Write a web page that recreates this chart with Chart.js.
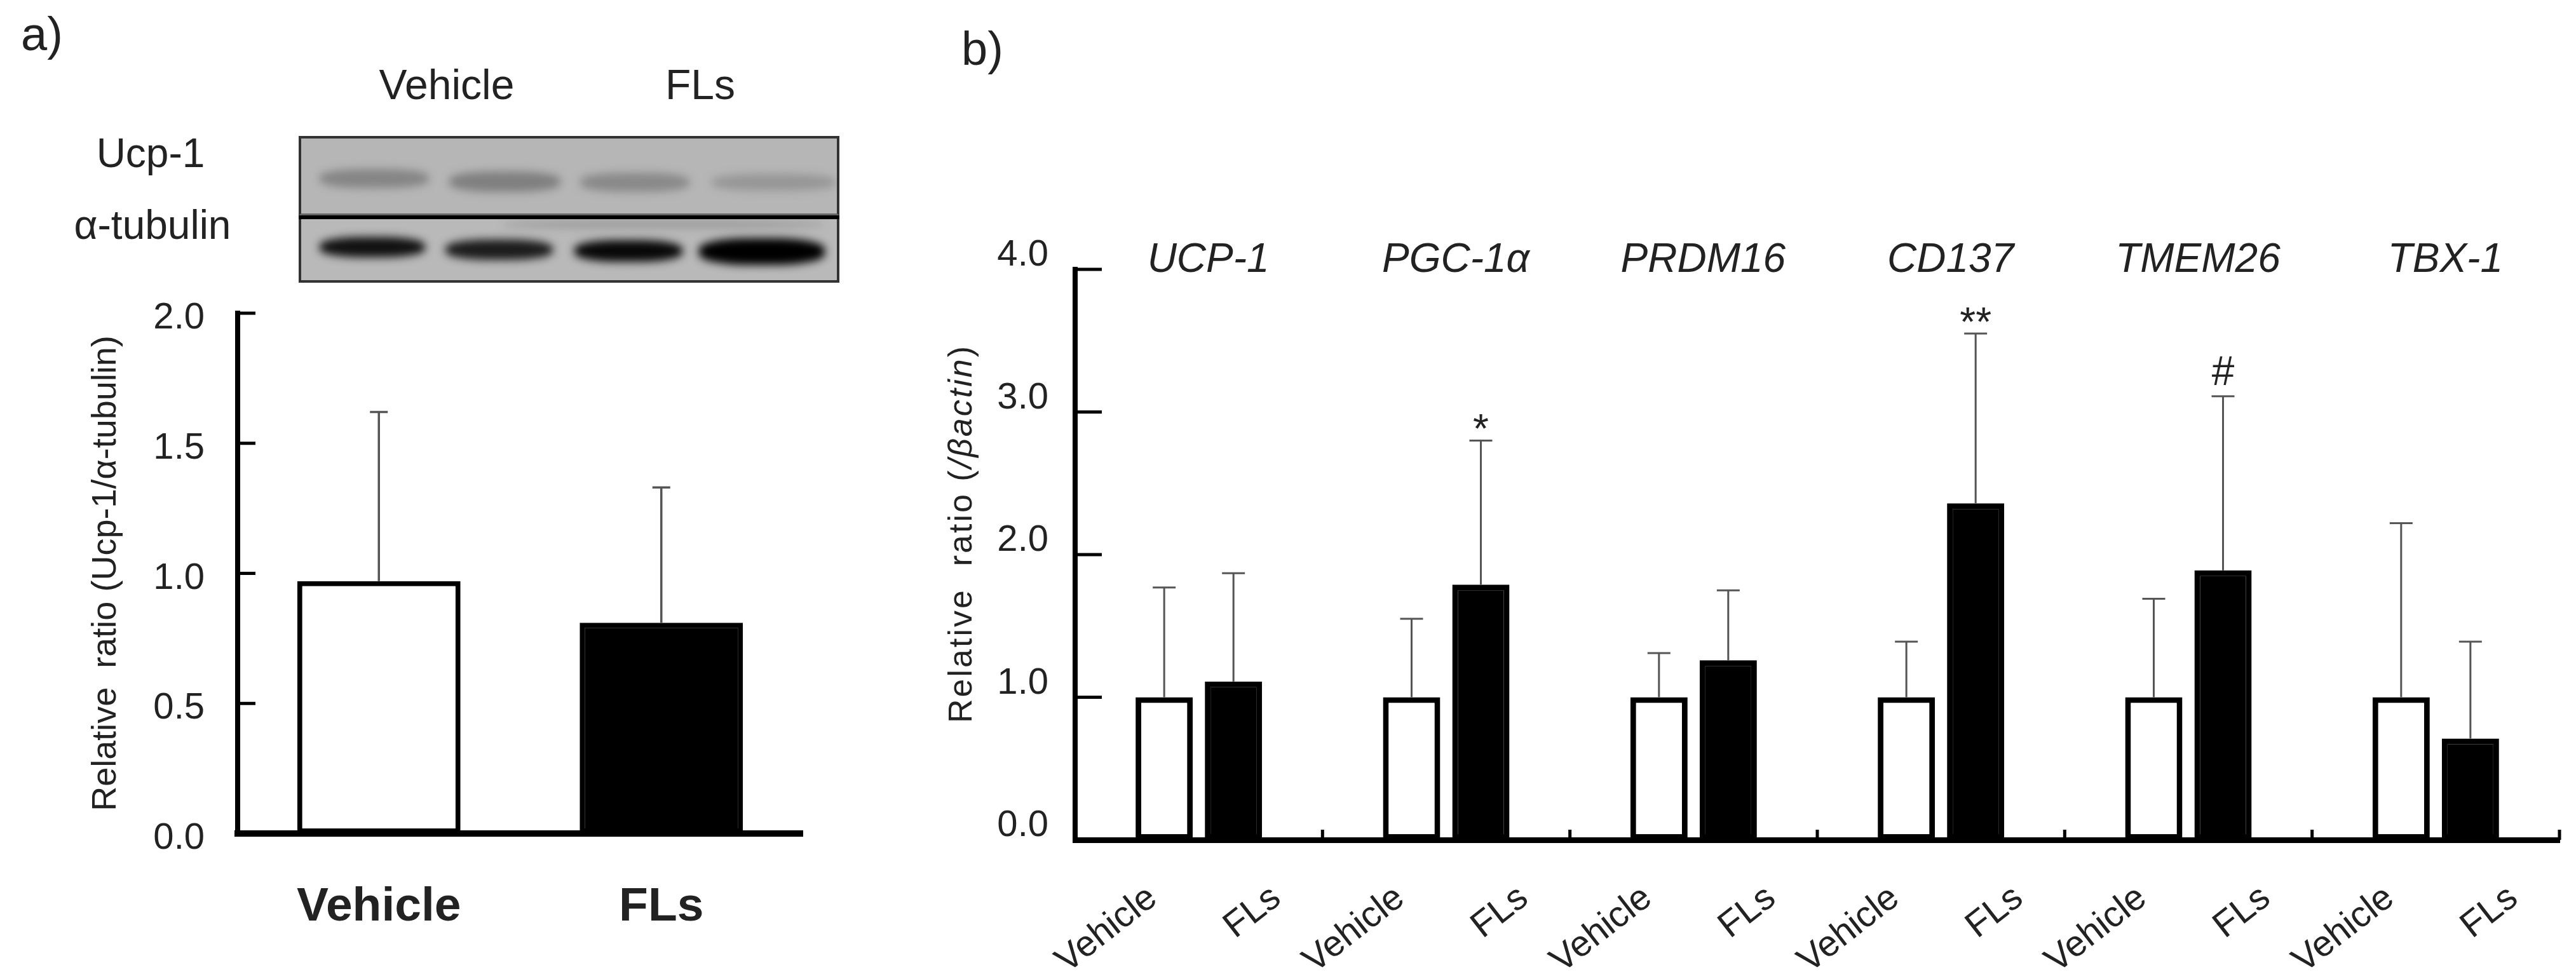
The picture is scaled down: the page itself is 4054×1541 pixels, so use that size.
<!DOCTYPE html>
<html>
<head>
<meta charset="utf-8">
<script src="https://cdn.jsdelivr.net/npm/chart.js@4.4.1/dist/chart.umd.min.js"></script>
<style>
  body { margin: 0; width: 4054px; height: 1541px; background: #fff; overflow: hidden; position: relative;
         font-family: 'Liberation Sans', Arial, sans-serif; color: #222; }
  canvas { position: absolute; top: 0; }
  .txt { position: absolute; white-space: nowrap; line-height: 1; transform: translate(-50%, -50%); }
  .blot { position: absolute; overflow: hidden; }
  .band { position: absolute; border-radius: 40%; filter: blur(7px); }
</style>
</head>
<body>

<div class="txt" style="left:66px; top:54px; font-size:74px;">a)</div>
<div class="txt" style="left:1546px; top:77px; font-size:74px;">b)</div>

<!-- западный блот над панелью a -->
<div class="txt" style="left:703px; top:133px; font-size:66px;">Vehicle</div>
<div class="txt" style="left:1102px; top:133px; font-size:66px;">FLs</div>
<div class="txt" style="left:237px; top:241px; font-size:64px;">Ucp-1</div>
<div class="txt" style="left:240px; top:354px; font-size:64px;">α-tubulin</div>

<div class="blot" style="left:470px; top:214px; width:843px; height:118px; background:#b6b6b6; border:4px solid #333; border-bottom:3px solid #666;">
  <div class="band" style="left:29px; top:48px; width:172px; height:30px; background:#858585;"></div>
  <div class="band" style="left:233px; top:52px; width:175px; height:32px; background:#7f7f7f;"></div>
  <div class="band" style="left:439px; top:54px; width:172px; height:30px; background:#898989;"></div>
  <div class="band" style="left:646px; top:56px; width:195px; height:26px; background:#969696;"></div>
</div>
<div style="position:absolute; left:470px; top:339px; width:851px; height:6px; background:#000;"></div>
<div class="blot" style="left:470px; top:345px; width:843px; height:96px; background:#b9b9b9; border:4px solid #333; border-top:none;">
  <div class="band" style="left:29px; top:28px; width:166px; height:32px; background:#111;"></div>
  <div class="band" style="left:227px; top:32px; width:169px; height:32px; background:#1c1c1c;"></div>
  <div class="band" style="left:430px; top:33px; width:170px; height:34px; background:#080808;"></div>
  <div class="band" style="left:626px; top:30px; width:198px; height:42px; background:#000;"></div>
  <div class="band" style="left:320px; top:2px; width:500px; height:12px; background:#9a9a9a;"></div>
</div>

<canvas id="chartA" width="1300" height="1541" style="left:0; width:1300px; height:1541px;"></canvas>
<canvas id="chartB" width="2734" height="1541" style="left:1320px; width:2734px; height:1541px;"></canvas>

<script>
// данные панели a (вестерн-блот, Ucp-1/α-tubulin)
const blotGroups = ['Vehicle', 'FLs'];
const blotMean = [0.97, 0.81];
const blotSd = [0.65, 0.52];
const yTicksA = [0, 0.5, 1.0, 1.5, 2.0];

// данные панели b (экспрессия генов, /βactin)
const genes = ['UCP-1', 'PGC-1α', 'PRDM16', 'CD137', 'TMEM26', 'TBX-1'];
const seriesNames = ['Vehicle', 'FLs'];
const vehicleMean = [1.00, 1.00, 1.00, 1.00, 1.00, 1.00];
const vehicleSd = [0.77, 0.55, 0.31, 0.39, 0.69, 1.22];
const flsMean = [1.11, 1.79, 1.26, 2.36, 1.89, 0.71];
const flsSd = [0.76, 1.01, 0.49, 1.19, 1.22, 0.68];
const flsMarks = ['', '*', '', '**', '#', ''];
const yTicksB = [0, 1, 2, 3, 4];

const FONT = "'Liberation Sans', Arial, sans-serif";

// засечки внутрь графика (по оси y) и разделители групп на оси x
const inwardTicks = {
  id: 'inwardTicks',
  afterDatasetsDraw(chart, args, opts) {
    const { ctx, chartArea: ca, scales: { x, y } } = chart;
    ctx.save();
    ctx.strokeStyle = '#000';
    ctx.lineWidth = opts.width;
    ctx.beginPath();
    y.ticks.forEach((t, i) => {
      const py = y.getPixelForTick(i);
      ctx.moveTo(ca.left, py);
      ctx.lineTo(ca.left + opts.yLen, py);
    });
    if (opts.xLen) {
      for (let i = 1; i <= x.ticks.length; i++) {
        const px = x.getPixelForValue(i - 0.5);
        ctx.moveTo(px, ca.bottom);
        ctx.lineTo(px, ca.bottom - opts.xLen);
      }
    }
    ctx.stroke();
    ctx.restore();
  }
};

// планки погрешностей (только вверх) и значки значимости
const errorBars = {
  id: 'errorBars',
  afterDatasetsDraw(chart, args, opts) {
    const { ctx, scales: { y } } = chart;
    ctx.save();
    chart.data.datasets.forEach((ds, di) => {
      const meta = chart.getDatasetMeta(di);
      meta.data.forEach((bar, i) => {
        const top = y.getPixelForValue(ds.data[i] + ds.sd[i]);
        ctx.strokeStyle = opts.color;
        ctx.lineWidth = opts.width;
        ctx.beginPath();
        ctx.moveTo(bar.x, bar.y);
        ctx.lineTo(bar.x, top);
        ctx.moveTo(bar.x - opts.cap, top);
        ctx.lineTo(bar.x + opts.cap, top);
        ctx.stroke();
        const mark = ds.marks ? ds.marks[i] : '';
        if (mark) {
          ctx.font = `${opts.markSize}px ${FONT}`;
          ctx.fillStyle = '#222';
          ctx.textAlign = 'center';
          ctx.textBaseline = 'alphabetic';
          const m = ctx.measureText(mark);
          ctx.fillText(mark, bar.x, top - opts.markGap - m.actualBoundingBoxDescent);
        }
      });
    });
    ctx.restore();
  }
};

// подписи генов сверху, повернутые подписи групп и заголовок оси панели b
const panelBText = {
  id: 'panelBText',
  afterDraw(chart) {
    const { ctx, chartArea: ca, scales: { x } } = chart;
    ctx.save();
    ctx.fillStyle = '#222';
    ctx.font = `italic 64px ${FONT}`;
    ctx.textAlign = 'center';
    ctx.textBaseline = 'middle';
    genes.forEach((g, i) => ctx.fillText(g, x.getPixelForValue(i) + 15, ca.top - 14));

    ctx.font = `57px ${FONT}`;
    ctx.textAlign = 'right';
    genes.forEach((g, i) => {
      seriesNames.forEach((s, k) => {
        const px = x.getPixelForValue(i + (k === 0 ? -0.25 : 0.25)) + 25;
        ctx.save();
        ctx.translate(px, ca.bottom + 85);
        ctx.rotate(-38 * Math.PI / 180);
        ctx.fillText(s, 0, 0);
        ctx.restore();
      });
    });

    const parts = [['Relative  ratio (', 'normal'], ['/βactin', 'italic'], [')', 'normal']];
    ctx.translate(ca.left - 177, (ca.top + ca.bottom) / 2 - 33);
    ctx.rotate(-Math.PI / 2);
    ctx.textAlign = 'left';
    ctx.letterSpacing = '3px';
    let total = 0;
    parts.forEach(p => { ctx.font = `${p[1]} 52px ${FONT}`; p.w = ctx.measureText(p[0]).width; total += p.w; });
    let xx = -total / 2;
    parts.forEach(p => { ctx.font = `${p[1]} 52px ${FONT}`; ctx.fillText(p[0], xx, 0); xx += p.w; });
    ctx.restore();
  }
};

Chart.defaults.font.family = FONT;
Chart.defaults.color = '#222';

new Chart(document.getElementById('chartA'), {
  type: 'bar',
  plugins: [inwardTicks, errorBars],
  data: {
    labels: blotGroups,
    datasets: [{
      data: blotMean,
      sd: blotSd,
      backgroundColor: ['#ffffff', '#000000'],
      borderColor: '#000000',
      borderWidth: 8,
      borderSkipped: false,
      categoryPercentage: 1,
      barPercentage: 0.578
    }]
  },
  options: {
    responsive: false,
    devicePixelRatio: 1,
    animation: false,
    events: [],
    layout: { padding: { top: 493, right: 37, left: 0, bottom: 0 } },
    plugins: {
      legend: { display: false },
      tooltip: { enabled: false },
      inwardTicks: { width: 5, yLen: 28, xLen: 0 },
      errorBars: { color: '#555', width: 3.5, cap: 14, markSize: 64, markGap: 20 }
    },
    scales: {
      x: {
        afterFit: s => { s.height = 229; },
        grid: { display: false, drawTicks: false },
        border: { display: true, width: 10, color: '#000' },
        ticks: { font: { size: 75, weight: 'bold' }, padding: 71, color: '#222' }
      },
      y: {
        min: 0, max: 2,
        afterFit: s => { s.width = 374; },
        afterBuildTicks: s => { s.ticks = yTicksA.map(v => ({ value: v })); },
        grid: { display: false, drawTicks: false },
        border: { display: true, width: 8, color: '#000' },
        ticks: { font: { size: 58 }, padding: 52, labelOffset: 8, color: '#222', callback: v => v.toFixed(1) },
        title: { display: true, text: 'Relative  ratio (Ucp-1/α-tubulin)', font: { size: 54 }, color: '#222', padding: { top: 135, bottom: 0 } }
      }
    }
  }
});

new Chart(document.getElementById('chartB'), {
  type: 'bar',
  plugins: [inwardTicks, errorBars, panelBText],
  data: {
    labels: genes,
    datasets: [{
      label: seriesNames[0],
      data: vehicleMean,
      sd: vehicleSd,
      backgroundColor: '#ffffff',
      borderColor: '#000000',
      borderWidth: 9,
      borderSkipped: false
    }, {
      label: seriesNames[1],
      data: flsMean,
      sd: flsSd,
      marks: flsMarks,
      backgroundColor: '#000000',
      borderColor: '#000000',
      borderWidth: 9,
      borderSkipped: false
    }]
  },
  options: {
    responsive: false,
    devicePixelRatio: 1,
    animation: false,
    events: [],
    datasets: { bar: { categoryPercentage: 0.56, barPercentage: 0.826 } },
    layout: { padding: { top: 424, right: 26, left: 0, bottom: 0 } },
    plugins: {
      legend: { display: false },
      tooltip: { enabled: false },
      inwardTicks: { width: 5, yLen: 42, xLen: 16 },
      errorBars: { color: '#555', width: 3, cap: 18, markSize: 64, markGap: 18 }
    },
    scales: {
      x: {
        afterFit: s => { s.height = 219; },
        grid: { display: false, drawTicks: false },
        border: { display: true, width: 9, color: '#000' },
        ticks: { display: false }
      },
      y: {
        min: 0, max: 4,
        afterFit: s => { s.width = 372; },
        afterBuildTicks: s => { s.ticks = yTicksB.map(v => ({ value: v })); },
        grid: { display: false, drawTicks: false },
        border: { display: true, width: 8, color: '#000' },
        ticks: { font: { size: 58 }, padding: 42, labelOffset: -22, color: '#222', callback: v => v.toFixed(1) }
      }
    }
  }
});
</script>
</body>
</html>
